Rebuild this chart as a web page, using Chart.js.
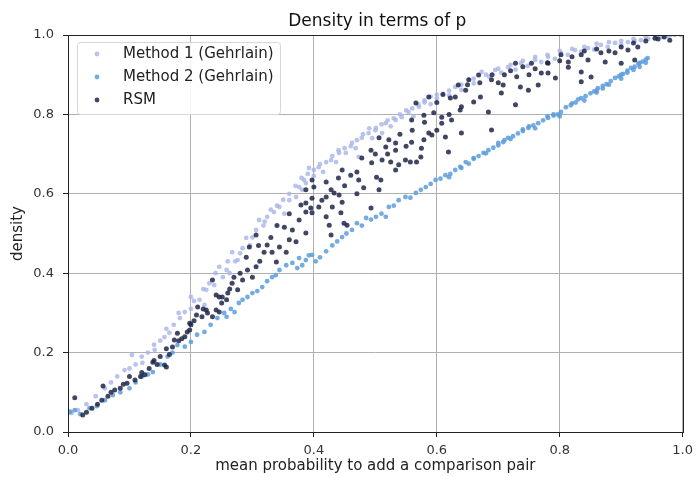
<!DOCTYPE html>
<html>
<head>
<meta charset="utf-8">
<script src="https://cdn.jsdelivr.net/npm/chart.js@4"></script>
<style>
  body { margin: 0; background: #fff; }
  #wrap { width: 699px; height: 477px; }
</style>
</head>
<body>
<div id="wrap"><canvas id="densityChart" width="699" height="477"></canvas></div>
<script>
// values, [p, density]
const xTicks = [0.0, 0.2, 0.4, 0.6, 0.8, 1.0];
const yTicks = [0.0, 0.2, 0.4, 0.6, 0.8, 1.0];
const chartTitle = 'Density in terms of p';
const seriesNames = ['Method 1 (Gehrlain)', 'Method 2 (Gehrlain)', 'RSM'];

const method1Points = [
  [0.004,0.052],[0.006,0.048],[0.016,0.055],[0.03,0.07],[0.045,0.09],[0.06,0.11],[0.07,0.125],[0.08,0.14],
  [0.092,0.156],[0.104,0.194],[0.11,0.17],[0.121,0.174],[0.13,0.2],[0.141,0.207],[0.15,0.23],[0.157,0.239],
  [0.165,0.25],[0.172,0.27],[0.182,0.287],[0.19,0.302],[0.2,0.31],[0.205,0.33],[0.214,0.333],[0.222,0.32],
  [0.225,0.358],[0.23,0.375],[0.238,0.37],[0.246,0.416],[0.252,0.39],[0.258,0.408],[0.263,0.4],[0.267,0.453],
  [0.272,0.43],[0.276,0.433],[0.284,0.463],[0.29,0.489],[0.296,0.47],[0.306,0.509],[0.311,0.534],[0.318,0.52],
  [0.324,0.542],[0.335,0.554],[0.344,0.567],[0.352,0.55],[0.36,0.584],[0.371,0.592],[0.376,0.617],[0.381,0.61],
  [0.384,0.635],[0.387,0.627],[0.392,0.665],[0.4,0.645],[0.408,0.667],[0.415,0.655],[0.428,0.685],[0.436,0.68],
  [0.441,0.703],[0.452,0.703],[0.462,0.728],[0.468,0.715],[0.473,0.693],[0.478,0.741],[0.489,0.753],[0.495,0.74],
  [0.501,0.766],[0.511,0.753],[0.517,0.778],[0.525,0.77],[0.533,0.786],[0.543,0.793],[0.554,0.806],[0.562,0.795],
  [0.571,0.819],[0.58,0.83],[0.59,0.826],[0.6,0.84],[0.61,0.852],[0.62,0.848],[0.63,0.869],[0.64,0.862],
  [0.652,0.887],[0.66,0.878],[0.673,0.907],[0.685,0.895],[0.695,0.912],[0.705,0.905],[0.716,0.919],[0.728,0.913],
  [0.737,0.929],[0.748,0.922],[0.76,0.937],[0.77,0.932],[0.781,0.945],[0.792,0.94],[0.802,0.955],[0.813,0.95],
  [0.825,0.962],[0.835,0.958],[0.846,0.967],[0.856,0.963],[0.867,0.975],[0.878,0.97],[0.89,0.98],[0.9,0.976],
  [0.911,0.982],[0.922,0.985],[0.932,0.987],[0.944,0.99],[0.955,0.992],[0.966,0.995],[0.976,0.997],[0.987,1.0],
  [0.997,1.0],
  [0.1,0.16],[0.12,0.19],[0.14,0.22],[0.16,0.26],[0.18,0.3],[0.2,0.34],[0.22,0.36],[0.24,0.4],
  [0.26,0.43],[0.28,0.45],[0.3,0.49],[0.32,0.53],[0.34,0.57],[0.36,0.6],[0.38,0.64],[0.4,0.66],
  [0.42,0.68],[0.44,0.71],[0.46,0.72],[0.48,0.75],[0.5,0.76],[0.52,0.785],[0.54,0.8],[0.56,0.815],
  [0.58,0.835],[0.6,0.85],[0.62,0.86],[0.64,0.875],[0.66,0.89],[0.68,0.9],[0.7,0.915],[0.72,0.925],
  [0.74,0.935],[0.76,0.945],[0.78,0.95],[0.8,0.96],[0.82,0.965],[0.84,0.97],[0.86,0.978],[0.88,0.982],
  [0.9,0.985],[0.92,0.99],[0.94,0.995],[0.96,0.998],[0.98,1.0],
  [0.33,0.56],[0.35,0.585],[0.37,0.62],[0.39,0.65],[0.41,0.675],[0.43,0.695],[0.45,0.715],[0.47,0.735],
  [0.49,0.765],[0.51,0.775],[0.53,0.79],[0.55,0.81],[0.57,0.825],[0.59,0.845]
];

const method2Points = [
  [0.003,0.05],[0.011,0.055],[0.02,0.045],[0.035,0.06],[0.047,0.065],[0.06,0.08],[0.073,0.093],[0.085,0.1],
  [0.1,0.11],[0.11,0.125],[0.12,0.139],[0.13,0.145],[0.138,0.151],[0.15,0.17],[0.162,0.19],[0.17,0.2],
  [0.178,0.219],[0.19,0.215],[0.2,0.227],[0.21,0.245],[0.222,0.252],[0.232,0.27],[0.243,0.287],[0.254,0.3],
  [0.258,0.29],[0.265,0.31],[0.271,0.302],[0.278,0.325],[0.284,0.333],[0.292,0.34],[0.3,0.35],[0.308,0.355],
  [0.316,0.365],[0.324,0.38],[0.332,0.39],[0.338,0.395],[0.344,0.408],[0.355,0.42],[0.365,0.426],[0.373,0.413],
  [0.376,0.438],[0.381,0.42],[0.387,0.433],[0.392,0.445],[0.397,0.446],[0.403,0.43],[0.41,0.44],[0.42,0.455],
  [0.43,0.47],[0.438,0.48],[0.446,0.491],[0.453,0.5],[0.462,0.509],[0.47,0.526],[0.478,0.52],[0.485,0.539],
  [0.493,0.535],[0.501,0.542],[0.51,0.55],[0.517,0.542],[0.522,0.567],[0.53,0.57],[0.538,0.584],[0.549,0.592],
  [0.557,0.59],[0.566,0.602],[0.574,0.61],[0.582,0.617],[0.59,0.625],[0.598,0.635],[0.606,0.638],[0.614,0.647],
  [0.622,0.65],[0.63,0.66],[0.638,0.668],[0.647,0.68],[0.652,0.676],[0.66,0.688],[0.668,0.695],[0.676,0.703],
  [0.684,0.71],[0.692,0.716],[0.7,0.722],[0.708,0.73],[0.716,0.741],[0.724,0.745],[0.732,0.752],[0.74,0.758],
  [0.749,0.766],[0.757,0.772],[0.765,0.778],[0.773,0.785],[0.781,0.791],[0.79,0.797],[0.797,0.8],[0.802,0.806],
  [0.81,0.818],[0.818,0.823],[0.826,0.83],[0.835,0.841],[0.842,0.846],[0.85,0.853],[0.856,0.858],[0.862,0.866],
  [0.87,0.872],[0.876,0.876],[0.883,0.884],[0.89,0.892],[0.896,0.896],[0.903,0.902],[0.91,0.91],[0.916,0.917],
  [0.922,0.92],[0.928,0.928],[0.935,0.933],[0.943,0.942],[0.94,0.93],[0.93,0.92],[0.8,0.795],[0.84,0.835],
  [0.88,0.875],[0.92,0.912],[0.86,0.855],[0.9,0.89],[0.76,0.765],[0.72,0.738],[0.68,0.702],
  [0.62,0.642],[0.64,0.665],[0.66,0.69],[0.7,0.728],[0.74,0.762],[0.78,0.795],[0.82,0.828],[0.86,0.86],
  [0.9,0.9],[0.93,0.93],[0.94,0.938],[0.91,0.905],[0.87,0.865],[0.83,0.838],[0.79,0.8],[0.75,0.77],[0.71,0.735]
];

const rsmPoints = [
  [0.011,0.086],[0.024,0.043],[0.03,0.05],[0.039,0.06],[0.048,0.07],[0.055,0.08],[0.057,0.116],[0.065,0.09],
  [0.076,0.106],[0.085,0.11],[0.096,0.123],[0.109,0.131],[0.118,0.14],[0.125,0.144],[0.132,0.16],[0.138,0.176],
  [0.145,0.17],[0.157,0.169],[0.16,0.164],[0.16,0.21],[0.165,0.195],[0.17,0.214],[0.173,0.232],[0.178,0.249],
  [0.185,0.235],[0.194,0.252],[0.198,0.257],[0.198,0.274],[0.205,0.28],[0.209,0.295],[0.211,0.315],[0.218,0.29],
  [0.225,0.307],[0.227,0.3],[0.235,0.29],[0.235,0.383],[0.241,0.345],[0.241,0.307],[0.246,0.34],[0.246,0.302],
  [0.25,0.325],[0.251,0.34],[0.258,0.333],[0.263,0.36],[0.267,0.375],[0.276,0.358],[0.284,0.383],[0.292,0.408],
  [0.295,0.466],[0.3,0.39],[0.306,0.416],[0.306,0.496],[0.312,0.43],[0.319,0.453],[0.324,0.471],[0.332,0.453],
  [0.339,0.428],[0.344,0.466],[0.352,0.516],[0.355,0.453],[0.36,0.484],[0.365,0.509],[0.371,0.479],[0.376,0.534],
  [0.379,0.572],[0.387,0.501],[0.387,0.554],[0.387,0.577],[0.387,0.61],[0.395,0.564],[0.397,0.552],[0.397,0.589],
  [0.397,0.635],[0.4,0.617],[0.408,0.567],[0.413,0.584],[0.42,0.542],[0.42,0.592],[0.425,0.521],[0.428,0.496],
  [0.428,0.61],[0.43,0.567],[0.433,0.602],[0.441,0.597],[0.444,0.552],[0.446,0.579],[0.446,0.66],[0.449,0.526],
  [0.454,0.521],[0.46,0.647],[0.47,0.655],[0.473,0.635],[0.478,0.69],[0.481,0.615],[0.493,0.564],[0.493,0.71],
  [0.494,0.678],[0.502,0.642],[0.506,0.61],[0.506,0.741],[0.509,0.635],[0.511,0.685],[0.517,0.718],[0.522,0.736],
  [0.525,0.68],[0.533,0.66],[0.533,0.71],[0.533,0.728],[0.538,0.673],[0.549,0.685],[0.557,0.68],[0.559,0.73],
  [0.559,0.786],[0.566,0.829],[0.567,0.68],[0.574,0.693],[0.575,0.715],[0.579,0.736],[0.579,0.798],[0.587,0.753],
  [0.587,0.844],[0.592,0.748],[0.595,0.804],[0.608,0.778],[0.608,0.793],[0.614,0.743],[0.619,0.705],[0.622,0.841],
  [0.624,0.786],[0.63,0.844],[0.635,0.874],[0.638,0.811],[0.64,0.753],[0.64,0.819],[0.647,0.861],[0.652,0.887],
  [0.66,0.831],[0.668,0.899],[0.671,0.844],[0.684,0.806],[0.689,0.761],[0.689,0.887],[0.705,0.854],[0.708,0.874],
  [0.728,0.824],[0.728,0.929],[0.736,0.869],[0.749,0.861],[0.754,0.929],[0.765,0.874],[0.77,0.904],[0.781,0.904],
  [0.781,0.929],[0.793,0.892],[0.802,0.95],[0.814,0.919],[0.814,0.932],[0.835,0.882],[0.835,0.907],[0.835,0.95],
  [0.846,0.937],[0.851,0.894],[0.867,0.955],[0.874,0.932],[0.89,0.955],[0.9,0.929],[0.911,0.962],[0.922,0.937],
  [0.927,0.97],[0.955,0.992],[0.979,0.987],
  [0.6,0.83],[0.61,0.85],[0.65,0.875],[0.67,0.88],[0.69,0.9],[0.71,0.9],[0.72,0.91],[0.74,0.92],
  [0.76,0.915],[0.78,0.93],[0.8,0.935],[0.82,0.945],[0.84,0.96],[0.86,0.965],[0.88,0.96],[0.9,0.97],
  [0.92,0.98],[0.94,0.985],[0.96,0.99],[0.97,0.995],[0.7,0.88],[0.73,0.895],[0.75,0.9],
  [0.45,0.62],[0.47,0.6],[0.5,0.7],[0.52,0.7],[0.54,0.75],[0.55,0.72],[0.56,0.76],[0.58,0.78],
  [0.6,0.76],[0.62,0.8],[0.44,0.64],[0.42,0.63],[0.36,0.55],[0.34,0.52],[0.33,0.49],[0.31,0.47],
  [0.29,0.44],[0.28,0.4],[0.27,0.39],[0.26,0.35],[0.22,0.31],[0.2,0.27],[0.19,0.24],[0.18,0.23],
  [0.15,0.19],[0.14,0.18],[0.12,0.15],[0.1,0.14],[0.09,0.12],[0.07,0.1]
];

const seriesColors = ['rgba(168,180,232,0.8)', 'rgba(92,156,218,0.85)', 'rgba(30,38,72,0.85)'];
const font = "'DejaVu Sans', sans-serif";

const toXY = pts => pts.map(p => ({ x: p[0], y: p[1] }));

// title centred over the plot, axes frame and legend box in the upper left corner
const frameAndLegend = {
  id: 'frameAndLegend',
  afterDraw(chart) {
    const a = chart.chartArea;
    const ctx = chart.ctx;
    ctx.save();
    ctx.fillStyle = '#111';
    ctx.font = '17px ' + font;
    ctx.textAlign = 'center';
    ctx.textBaseline = 'alphabetic';
    ctx.fillText(chartTitle, (a.left + a.right) / 2 + 2, 26);

    ctx.strokeStyle = '#222';
    ctx.lineWidth = 1;
    ctx.strokeRect(Math.round(a.left) + 0.5, Math.round(a.top) + 0.5, Math.round(a.right - a.left), Math.round(a.bottom - a.top));

    const left = Math.round(a.left) + 9, top = Math.round(a.top) + 7;
    ctx.fillStyle = 'rgba(255,255,255,0.85)';
    ctx.strokeStyle = '#d6d6d6';
    ctx.beginPath();
    ctx.roundRect(left + 0.5, top + 0.5, 203, 72, 3);
    ctx.fill();
    ctx.stroke();

    ctx.font = '15px ' + font;
    ctx.textAlign = 'left';
    ctx.textBaseline = 'middle';
    seriesNames.forEach((name, i) => {
      const cy = top + 12 + i * 23;
      ctx.fillStyle = seriesColors[i];
      ctx.beginPath();
      ctx.arc(left + 20, cy, 2.4, 0, Math.PI * 2);
      ctx.fill();
      ctx.fillStyle = '#222';
      ctx.fillText(name, left + 46, cy);
    });
    ctx.restore();
  }
};

new Chart(document.getElementById('densityChart'), {
  type: 'scatter',
  data: {
    datasets: [
      { label: seriesNames[0], data: toXY(method1Points), backgroundColor: seriesColors[0], borderWidth: 0, pointRadius: 2.4, order: 3 },
      { label: seriesNames[1], data: toXY(method2Points), backgroundColor: seriesColors[1], borderWidth: 0, pointRadius: 2.4, order: 2 },
      { label: seriesNames[2], data: toXY(rsmPoints), backgroundColor: seriesColors[2], borderWidth: 0, pointRadius: 2.5, order: 1 }
    ]
  },
  options: {
    responsive: false,
    animation: false,
    layout: { padding: { left: 0, right: 14, top: 35, bottom: 0 } },
    plugins: {
      title: { display: false },
      legend: { display: false },
      tooltip: { enabled: false }
    },
    scales: {
      x: {
        type: 'linear',
        min: 0, max: 1,
        afterFit: s => { s.height = 45; },
        afterBuildTicks: s => { s.ticks = xTicks.map(v => ({ value: v })); },
        ticks: { color: '#333', font: { family: font, size: 13 }, padding: 6, maxRotation: 0,
                 callback: v => v.toFixed(1) },
        grid: { color: '#b0b0b0', tickColor: '#222', tickLength: 5 },
        border: { display: false },
        title: { display: true, text: 'mean probability to add a comparison pair', color: '#222',
                 font: { family: font, size: 15 }, padding: { top: 0, bottom: 2 } }
      },
      y: {
        type: 'linear',
        min: 0, max: 1,
        afterFit: s => { s.width = 68; },
        afterBuildTicks: s => { s.ticks = yTicks.map(v => ({ value: v })); },
        ticks: { color: '#333', font: { family: font, size: 13 }, padding: 9,
                 callback: v => v.toFixed(1) },
        grid: { color: '#b0b0b0', tickColor: '#222', tickLength: 5 },
        border: { display: false },
        title: { display: true, text: 'density', color: '#222',
                 font: { family: font, size: 15 }, padding: { top: 9, bottom: 0 } }
      }
    }
  },
  plugins: [frameAndLegend]
});
</script>
</body>
</html>
